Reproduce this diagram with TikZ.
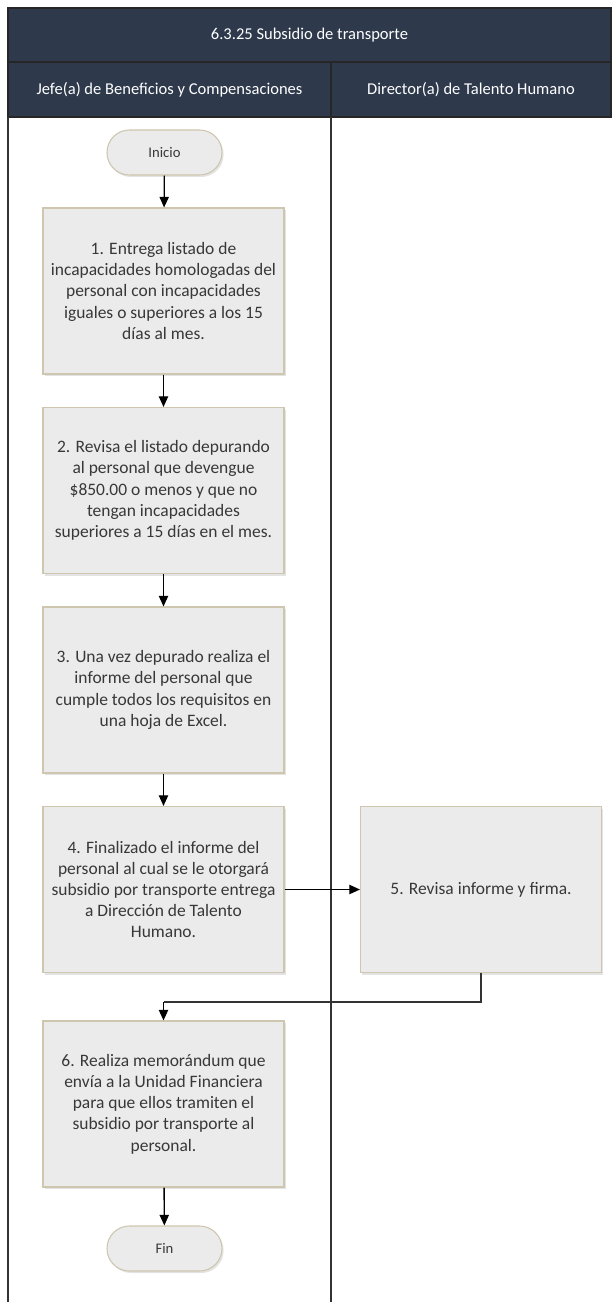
\documentclass[tikz,border=0pt]{standalone}
\usepackage{fontspec}
\setmainfont{Carlito}
\usepackage{xcolor}
\usepackage{tikz}
\usetikzlibrary{arrows.meta, positioning, shadows}

\definecolor{navy}{HTML}{2E3A4C}
\definecolor{boxfill}{HTML}{EBEBEB}
\definecolor{boxline}{HTML}{CEC6AE}
\definecolor{txt}{HTML}{383838}
\definecolor{lane}{HTML}{333333}

\tikzset{
  stepbox/.style={draw=boxline, fill=boxfill, line width=0.8pt, text=txt,
    minimum width=180.75pt, minimum height=124.5pt, align=center,
    inner sep=2pt, font=\fontsize{13.1}{15.9}\selectfont,
    drop shadow={shadow xshift=1.2pt, shadow yshift=-1.5pt, opacity=0.22}},
  endbox/.style={draw=boxline, fill=boxfill, line width=0.8pt, text=txt,
    minimum width=86.25pt, minimum height=33.75pt, rounded corners=16.8pt,
    font=\fontsize{11}{13}\selectfont,
    drop shadow={shadow xshift=1.2pt, shadow yshift=-1.5pt, opacity=0.22}},
  headbox/.style={draw=black!85, fill=navy, text=white, line width=1pt,
    font=\fontsize{12.4}{15}\selectfont, inner sep=0pt},
  flow/.style={draw=black, line width=1pt, -{Triangle[length=8pt, width=7pt]}},
  flowline/.style={draw=black!80, line width=1pt}
}

\begin{document}
\begin{tikzpicture}[x=0.75pt, y=-0.75pt]
    \useasboundingbox (0,0) rectangle (611,1302);
    \node[headbox, minimum width=452.25pt, minimum height=40.5pt] (title) at (309.5,35) {6.3.25 Subsidio de transporte};
    \node[headbox, minimum width=242.25pt, minimum height=41.25pt] (hdA) at (169.5,89.5) {Jefe(a) de Beneficios y Compensaciones};
    \node[headbox, minimum width=210pt, minimum height=41.25pt] (hdB) at (471,89.5) {Director(a) de Talento Humano};
    \draw[lane, line width=1.5pt] (8,117) -- (8,1302);
    \draw[lane, line width=1.5pt] (331,117) -- (331,1302);

    \node[endbox] (ini) at (164.5,152.5) {Inicio};
    \node[stepbox] (s1) at (163.5,291) {1. Entrega listado de\\incapacidades homologadas del\\personal con incapacidades\\iguales o superiores a los 15\\días al mes.};
    \node[stepbox] (s2) at (163.5,490.5) {2. Revisa el listado depurando\\al personal que devengue\\\$850.00 o menos y que no\\tengan incapacidades\\superiores a 15 días en el mes.};
    \node[stepbox] (s3) at (163.5,690) {3. Una vez depurado realiza el\\informe del personal que\\cumple todos los requisitos en\\una hoja de Excel.};
    \node[stepbox] (s4) at (163.5,889.5) {4. Finalizado el informe del\\personal al cual se le otorgará\\subsidio por transporte entrega\\a Dirección de Talento\\Humano.};
    \node[stepbox] (s5) at (481,889.5) {5. Revisa informe y firma.};
    \node[stepbox] (s6) at (163.5,1104) {6. Realiza memorándum que\\envía a la Unidad Financiera\\para que ellos tramiten el\\subsidio por transporte al\\personal.};
    \node[endbox] (fin) at (164.5,1248.5) {Fin};
    \coordinate (j56) at (163.5,1002);

    \draw[flow] (ini) -- (s1);
    \draw[flow] (s1) -- (s2);
    \draw[flow] (s2) -- (s3);
    \draw[flow] (s3) -- (s4);
    \draw[flow] (s4) -- (s5);
    \draw[flowline] (s5.south) |- (j56);
    \draw[flow] (j56) -- (s6);
    \draw[flow] (s6) -- (fin);
\end{tikzpicture}
\end{document}
